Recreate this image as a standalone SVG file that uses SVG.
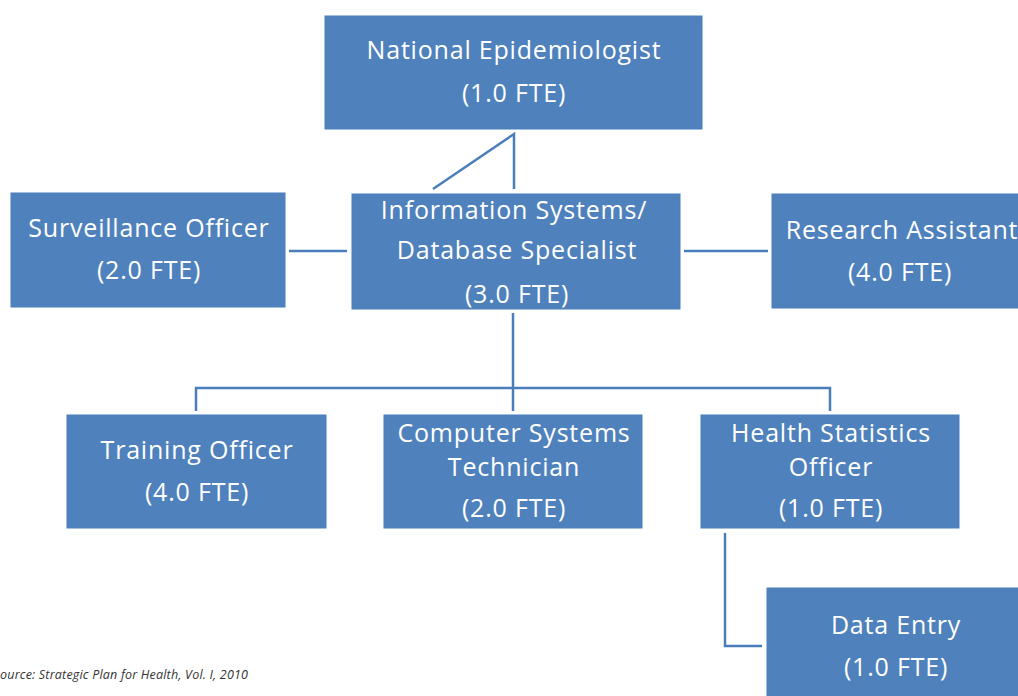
<svg xmlns="http://www.w3.org/2000/svg" width="1018" height="696" viewBox="0 0 1018 696">
<style>
.box{fill:#4F81BD;stroke:#4A7EBB;stroke-width:1}
.t{font-family:"Open Sans","Liberation Sans",sans-serif;font-size:25px;letter-spacing:0.8px;fill:#FFFFFF;text-anchor:middle}
.c{fill:none;stroke:#4A7EBB;stroke-width:2.5}
.src{font-family:"Open Sans","Liberation Sans",sans-serif;font-size:12.5px;letter-spacing:0.2px;font-style:italic;fill:#333333}
</style>
<rect width="1018" height="696" fill="#FFFFFF"/>
<g id="connectors">
<path class="c" d="M433,189 L514,134 L514,189"/>
<path class="c" d="M289,251 L347,251"/>
<path class="c" d="M684,251 L768,251"/>
<path class="c" d="M513,313 L513,411"/>
<path class="c" d="M196,411 L196,388 L830,388 L830,411"/>
<path class="c" d="M725,533 L725,646 L762,646"/>
</g>
<g id="national-epidemiologist">
<rect class="box" x="325" y="16" width="377" height="113"/>
<text class="t" x="514" y="59">National Epidemiologist</text>
<text class="t" x="514" y="102">(1.0 FTE)</text>
</g>
<g id="information-systems">
<rect class="box" x="352" y="194" width="328" height="115"/>
<text class="t" x="514" y="219">Information Systems/</text>
<text class="t" x="517" y="259">Database Specialist</text>
<text class="t" x="517" y="303">(3.0 FTE)</text>
</g>
<g id="surveillance-officer">
<rect class="box" x="11" y="193" width="274" height="114"/>
<text class="t" x="149" y="237">Surveillance Officer</text>
<text class="t" x="149" y="279">(2.0 FTE)</text>
</g>
<g id="research-assistant">
<rect class="box" x="772" y="194" width="250" height="114"/>
<text class="t" x="902" y="239">Research Assistant</text>
<text class="t" x="900" y="281">(4.0 FTE)</text>
</g>
<g id="training-officer">
<rect class="box" x="67" y="415" width="259" height="113"/>
<text class="t" x="197" y="459">Training Officer</text>
<text class="t" x="197" y="501">(4.0 FTE)</text>
</g>
<g id="computer-systems-technician">
<rect class="box" x="384" y="415" width="258" height="113"/>
<text class="t" x="514" y="442">Computer Systems</text>
<text class="t" x="514" y="476">Technician</text>
<text class="t" x="514" y="517">(2.0 FTE)</text>
</g>
<g id="health-statistics-officer">
<rect class="box" x="701" y="415" width="258" height="113"/>
<text class="t" x="831" y="442">Health Statistics</text>
<text class="t" x="831" y="476">Officer</text>
<text class="t" x="831" y="517">(1.0 FTE)</text>
</g>
<g id="data-entry">
<rect class="box" x="767" y="588" width="255" height="112"/>
<text class="t" x="896" y="634">Data Entry</text>
<text class="t" x="896" y="676">(1.0 FTE)</text>
</g>
<text class="src" x="0" y="679">ource: Strategic Plan for Health, Vol. I, 2010</text>
</svg>
